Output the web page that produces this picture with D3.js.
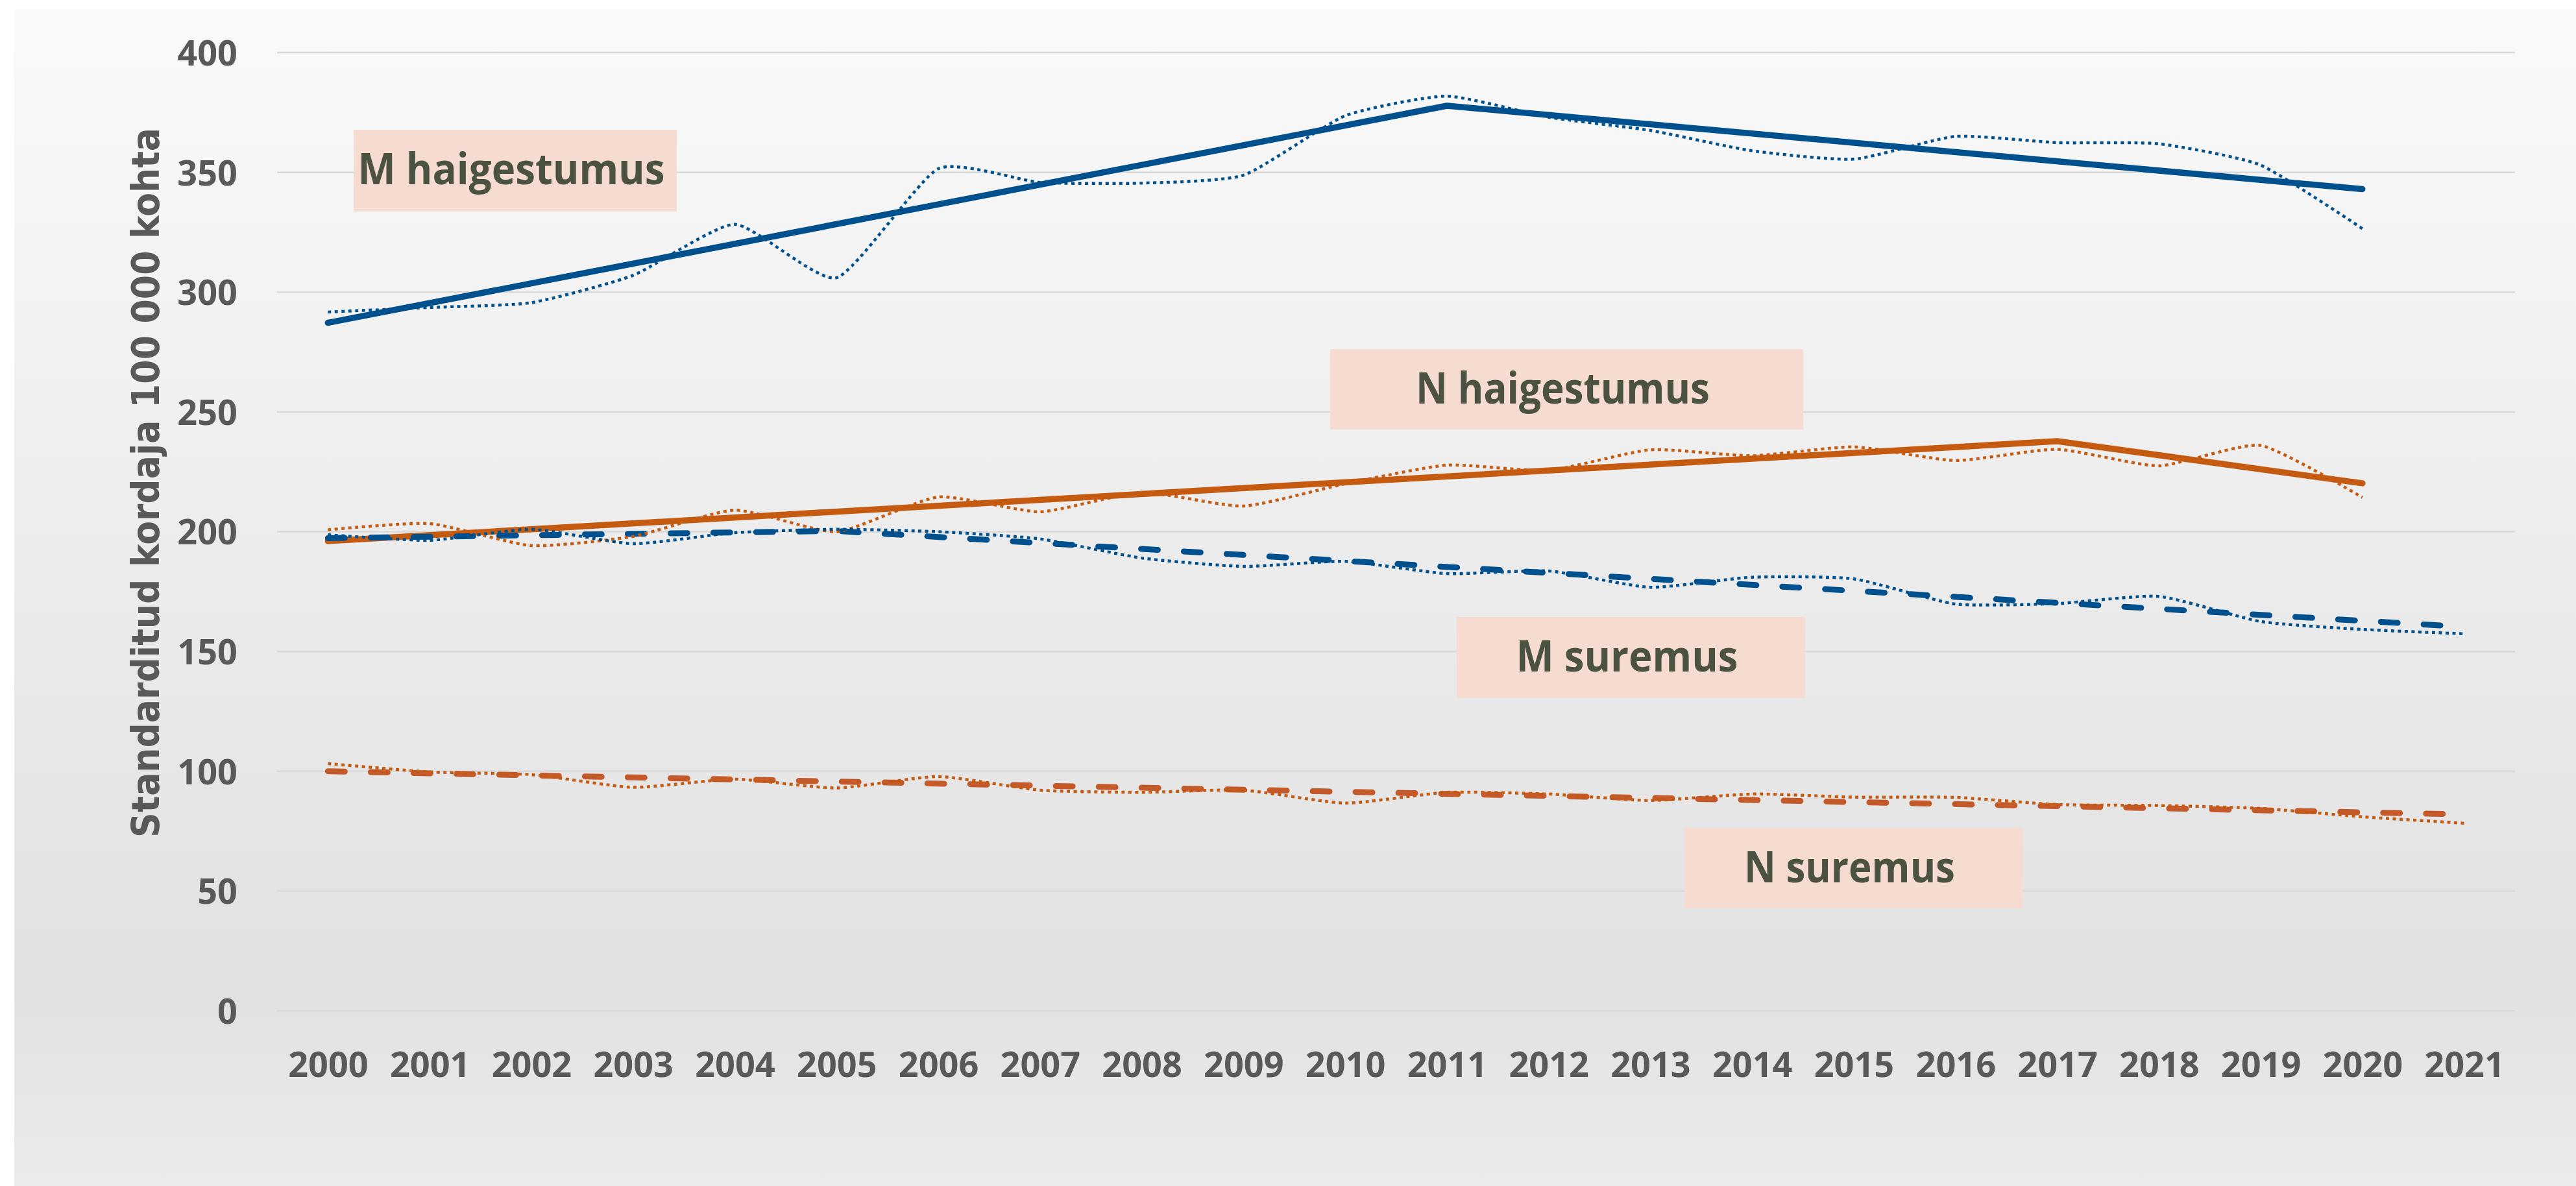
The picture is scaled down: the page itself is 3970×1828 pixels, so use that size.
<!DOCTYPE html>
<html>
<head>
<meta charset="utf-8">
<script src="https://cdn.jsdelivr.net/npm/d3@7"></script>
<style>
  body { margin: 0; background: #fff; }
  svg { display: block; }
</style>
</head>
<body>
<script>
// years on the x axis
var years = ["2000","2001","2002","2003","2004","2005","2006","2007","2008","2009","2010",
             "2011","2012","2013","2014","2015","2016","2017","2018","2019","2020","2021"];
var yTicks = [0, 50, 100, 150, 200, 250, 300, 350, 400];

// observed rates (dotted, smoothed)
var mHaig = [291.7, 293.6, 295.6, 307, 328.3, 306, 351.5, 345.8, 345.5, 348.8, 373.6,
             381.8, 373, 367.5, 359, 355.5, 365, 362.4, 361.9, 353, 326.5];
var nHaig = [200.8, 203.4, 194.2, 198, 209, 200, 214.5, 208.3, 216.4, 210.7, 220,
             227.8, 225.6, 234.2, 231.7, 235.4, 229.7, 234.4, 227.5, 236, 214.3];
var mSur = [198.7, 196.4, 201, 195, 199.6, 201, 200, 197, 189, 185.5, 187.6,
            182.5, 183.6, 176.8, 181, 180.3, 169.8, 170, 173, 162.5, 159.2, 157.4];
var nSur = [103.2, 99.7, 98.6, 93.3, 96.7, 93, 97.8, 92.1, 91.2, 92.1, 86.7,
            91.2, 90.5, 87.8, 90.5, 89.2, 89.1, 86.1, 85.7, 84.5, 81, 78.3];

// joinpoint trends (knot years and values)
var mHaigTrendYears = ["2000", "2011", "2020"];
var mHaigTrend = [287.2, 377.8, 343];
var nHaigTrendYears = ["2000", "2017", "2020"];
var nHaigTrend = [196.1, 237.8, 220.2];
var mSurTrendYears = ["2000", "2005", "2021"];
var mSurTrend = [197.3, 200.3, 160.3];
var nSurTrendYears = ["2000", "2021"];
var nSurTrend = [100, 82];

var labels = ["M haigestumus", "N haigestumus", "M suremus", "N suremus"];
var yTitle = "Standarditud kordaja 100 000 kohta";

var W = 3970, H = 1828;
var blue = "#00508e", orange = "#c55a11", orangeDash = "#c4592a";

var svg = d3.select("body").append("svg")
    .attr("width", W)
    .attr("height", H);

var defs = svg.append("defs");
var grad = defs.append("linearGradient")
    .attr("id", "bg")
    .attr("x1", 0).attr("y1", 0).attr("x2", 0).attr("y2", 1);
grad.append("stop").attr("offset", "0").attr("stop-color", "#fafafa");
grad.append("stop").attr("offset", "0.83").attr("stop-color", "#e1e1e1");
grad.append("stop").attr("offset", "1").attr("stop-color", "#ebebeb");

svg.append("rect")
    .attr("x", 22).attr("y", 15)
    .attr("width", W - 22).attr("height", H - 15)
    .attr("fill", "url(#bg)");

var x = d3.scalePoint()
    .domain(years)
    .range([427, 3876])
    .padding(0.5);

var y = d3.scaleLinear()
    .domain([0, 400])
    .range([1558, 81]);

// gridlines
svg.append("g")
  .selectAll("line")
  .data(yTicks)
  .enter().append("line")
    .attr("x1", 427).attr("x2", 3876)
    .attr("y1", function(d) { return y(d); })
    .attr("y2", function(d) { return y(d); })
    .attr("stroke", "#d9d9d9")
    .attr("stroke-width", 2.5);

// y axis
var yAxis = svg.append("g")
    .attr("transform", "translate(427,0)")
    .call(d3.axisLeft(y).tickValues(yTicks).tickSize(0).tickPadding(61));
yAxis.select(".domain").remove();
yAxis.selectAll("text")
    .attr("font-family", "'Open Sans', sans-serif")
    .attr("font-weight", 700)
    .attr("font-size", 54)
    .attr("fill", "#595959")
    .attr("dy", "0.36em");

// x axis
var xAxis = svg.append("g")
    .attr("transform", "translate(0,1558)")
    .call(d3.axisBottom(x).tickSize(0));
xAxis.select(".domain").remove();
xAxis.selectAll("text")
    .attr("y", 102)
    .attr("dy", null)
    .attr("font-family", "'Open Sans', sans-serif")
    .attr("font-weight", 700)
    .attr("font-size", 54)
    .attr("fill", "#595959");

// y axis title
svg.append("text")
    .attr("transform", "translate(245,744) rotate(-90)")
    .attr("text-anchor", "middle")
    .attr("font-family", "'DejaVu Sans', sans-serif")
    .attr("font-weight", 700)
    .attr("font-size", 58)
    .attr("fill", "#595959")
    .attr("textLength", 1094)
    .attr("lengthAdjust", "spacingAndGlyphs")
    .text(yTitle);

// label boxes
var boxes = [
  {x: 545, y: 200, w: 498, h: 126, tw: 473},
  {x: 2050, y: 538, w: 729, h: 124, tw: 453},
  {x: 2245, y: 951, w: 537, h: 125, tw: 342},
  {x: 2596, y: 1276, w: 521, h: 124, tw: 325}
];
var lab = svg.append("g").selectAll("g")
    .data(boxes)
    .enter().append("g");
lab.append("rect")
    .attr("x", function(d) { return d.x; })
    .attr("y", function(d) { return d.y; })
    .attr("width", function(d) { return d.w; })
    .attr("height", function(d) { return d.h; })
    .attr("fill", "#f6dcd0");
lab.append("text")
    .attr("x", function(d) { return d.x + d.w / 2 - 6; })
    .attr("y", function(d) { return d.y + 84; })
    .attr("text-anchor", "middle")
    .attr("font-family", "'Open Sans', sans-serif")
    .attr("font-weight", 700)
    .attr("font-size", 66)
    .attr("fill", "#4b5240")
    .attr("textLength", function(d) { return d.tw; })
    .attr("lengthAdjust", "spacingAndGlyphs")
    .text(function(d, i) { return labels[i]; });

function pts(ys, vals) {
  return vals.map(function(v, i) { return [x(ys[i]), y(v)]; });
}

var straight = d3.line();
// Excel-like smoothing: a bit tighter than plain Catmull-Rom
var smooth = d3.line().curve(d3.curveCardinal.tension(0.45));

var series = [
  {p: pts(mHaigTrendYears, mHaigTrend), c: blue, w: 9.5, dash: null, smooth: false},
  {p: pts(nHaigTrendYears, nHaigTrend), c: orange, w: 9.5, dash: null, smooth: false},
  {p: pts(mSurTrendYears, mSurTrend), c: blue, w: 9, dash: "26,40", smooth: false},
  {p: pts(nSurTrendYears, nSurTrend), c: orangeDash, w: 9, dash: "26,40", smooth: false},
  {p: pts(years, mHaig), c: blue, w: 4.5, dash: "5,5.5", smooth: true},
  {p: pts(years, nHaig), c: orange, w: 4.5, dash: "5,5.5", smooth: true},
  {p: pts(years, mSur), c: blue, w: 4.5, dash: "5,5.5", smooth: true},
  {p: pts(years, nSur), c: orange, w: 4.5, dash: "5,5.5", smooth: true}
];

svg.append("g").selectAll("path")
    .data(series)
    .enter().append("path")
    .attr("d", function(d) { return d.smooth ? smooth(d.p) : straight(d.p); })
    .attr("fill", "none")
    .attr("stroke", function(d) { return d.c; })
    .attr("stroke-width", function(d) { return d.w; })
    .attr("stroke-dasharray", function(d) { return d.dash; })
    .attr("stroke-linecap", function(d) { return d.smooth ? "butt" : "round"; })
    .attr("stroke-linejoin", "round");
</script>
</body>
</html>
